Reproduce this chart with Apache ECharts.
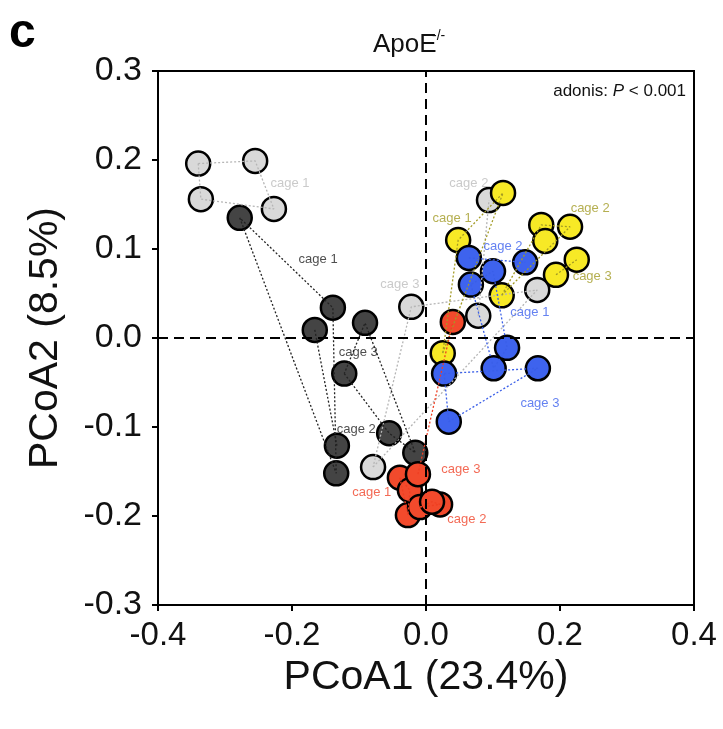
<!DOCTYPE html>
<html>
<head>
<meta charset="utf-8">
<script src="https://cdn.jsdelivr.net/npm/echarts@6/dist/echarts.min.js"></script>
<style>
  html, body { margin: 0; padding: 0; background: #fff; }
  #main { width: 723px; height: 729px; }
</style>
</head>
<body>
<div id="main"></div>
<script>
// axis ticks
var xTicks = [-0.4, -0.2, 0.0, 0.2, 0.4];
var yTicks = [-0.3, -0.2, -0.1, 0.0, 0.1, 0.2, 0.3];

// group 1 (light grey)
var grey1 = [[-0.340, 0.196], [-0.255, 0.199], [-0.336, 0.156], [-0.227, 0.145]];
var grey2 = [[0.094, 0.155], [0.078, 0.025]];
var grey3 = [[-0.022, 0.035], [0.166, 0.054], [-0.079, -0.145]];
// group 2 (dark grey)
var dark1 = [[-0.278, 0.135], [-0.139, 0.034], [-0.134, -0.152]];
var dark2 = [[-0.166, 0.009], [-0.133, -0.121]];
var dark3 = [[-0.091, 0.017], [-0.122, -0.040], [-0.055, -0.107], [-0.016, -0.129]];
// group 3 (yellow)
var yel1 = [[0.048, 0.110], [0.115, 0.163], [0.025, -0.017]];
var yel2 = [[0.172, 0.127], [0.215, 0.125], [0.178, 0.109], [0.113, 0.048]];
var yel3 = [[0.225, 0.088], [0.194, 0.071]];
// group 4 (blue)
var blue1 = [[0.100, 0.075], [0.067, 0.060], [0.121, -0.011], [0.101, -0.034]];
var blue2 = [[0.064, 0.090], [0.148, 0.085]];
var blue3 = [[0.034, -0.094], [0.167, -0.034], [0.027, -0.040]];
// group 5 (red)
var red1 = [[-0.039, -0.157], [-0.024, -0.171], [-0.027, -0.199]];
var red2 = [[-0.009, -0.190], [0.021, -0.187], [0.009, -0.184]];
var red3 = [[0.040, 0.018], [-0.012, -0.153]];

// cage labels: [x, y, text]
var greyLabels = [[-0.203, 0.174, 'cage 1'], [0.064, 0.174, 'cage 2'], [-0.039, 0.060, 'cage 3']];
var darkLabels = [[-0.161, 0.088, 'cage 1'], [-0.104, -0.103, 'cage 2'], [-0.101, -0.016, 'cage 3']];
var yelLabels = [[0.039, 0.134, 'cage 1'], [0.245, 0.146, 'cage 2'], [0.248, 0.069, 'cage 3']];
var blueLabels = [[0.155, 0.029, 'cage 1'], [0.115, 0.103, 'cage 2'], [0.170, -0.073, 'cage 3']];
var redLabels = [[-0.081, -0.174, 'cage 1'], [0.061, -0.204, 'cage 2'], [0.052, -0.148, 'cage 3']];

var FONT = 'Liberation Sans, Arial, Helvetica, sans-serif';

// convex hull (monotone chain), closed
function hull(pts) {
    var p = pts.slice().sort(function (a, b) { return a[0] - b[0] || a[1] - b[1]; });
    if (p.length < 3) return p;
    var cross = function (o, a, b) { return (a[0] - o[0]) * (b[1] - o[1]) - (a[1] - o[1]) * (b[0] - o[0]); };
    var lo = [], up = [];
    p.forEach(function (q) {
        while (lo.length >= 2 && cross(lo[lo.length - 2], lo[lo.length - 1], q) <= 0) lo.pop();
        lo.push(q);
    });
    p.slice().reverse().forEach(function (q) {
        while (up.length >= 2 && cross(up[up.length - 2], up[up.length - 1], q) <= 0) up.pop();
        up.push(q);
    });
    var h = lo.slice(0, -1).concat(up.slice(0, -1));
    h.push(h[0]);
    return h;
}

var groups = [
    { cages: [grey1, grey2, grey3], fill: '#d9d9d9', line: '#b5b5b5', text: '#bdbdbd', labels: greyLabels },
    { cages: [dark1, dark2, dark3], fill: '#444444', line: '#222222', text: '#222222', labels: darkLabels },
    { cages: [yel1, yel2, yel3], fill: '#f7e926', line: '#a39b25', text: '#a39b25', labels: yelLabels },
    { cages: [blue1, blue2, blue3], fill: '#3e63ee', line: '#3a5fe8', text: '#3e63ee', labels: blueLabels },
    { cages: [red1, red2, red3], fill: '#f24a2c', line: '#ef3f22', text: '#f0452a', labels: redLabels }
];

var series = [];
groups.forEach(function (g, gi) {
    series.push({
        type: 'scatter',
        data: [].concat(g.cages[0], g.cages[1], g.cages[2]),
        symbolSize: 24,
        itemStyle: { color: g.fill, borderColor: '#000', borderWidth: 2.5, opacity: 1 },
        z: 2,
        silent: true
    });
    g.cages.forEach(function (c) {
        series.push({
            type: 'line',
            data: hull(c),
            showSymbol: false,
            symbol: 'none',
            lineStyle: { color: g.line, width: 1.3, type: [2, 2] },
            z: 3,
            silent: true,
            animation: false
        });
    });
    series.push({
        type: 'scatter',
        data: g.labels.map(function (l) { return { value: [l[0], l[1]], name: l[2] }; }),
        symbolSize: 0,
        label: {
            show: true, position: 'inside', formatter: '{b}',
            color: g.text, fontSize: 13, fontFamily: FONT
        },
        z: 4,
        silent: true
    });
});

// zero reference lines
series[0].markLine = {
    silent: true,
    symbol: 'none',
    label: { show: false },
    lineStyle: { color: '#000', width: 2, type: [10, 6] },
    data: [{ xAxis: 0 }, { yAxis: 0 }],
    animation: false
};

var myChart = echarts.init(document.getElementById('main'));
var option = {
    backgroundColor: '#fff',
    animation: false,
    grid: {
        left: 158, top: 71, right: 29, bottom: 124,
        show: true, borderColor: '#000', borderWidth: 2, backgroundColor: 'transparent'
    },
    xAxis: {
        type: 'value',
        min: xTicks[0], max: xTicks[xTicks.length - 1], interval: 0.2,
        name: 'PCoA1 (23.4%)', nameLocation: 'middle', nameGap: 52,
        nameTextStyle: { fontSize: 41, color: '#111', fontFamily: FONT },
        axisLine: { onZero: false, lineStyle: { color: '#000', width: 2 } },
        axisTick: { show: true, length: 6, lineStyle: { color: '#000', width: 2 } },
        axisLabel: { fontSize: 33, color: '#111', fontFamily: FONT, margin: 14,
            formatter: function (v) { return v.toFixed(1); } },
        splitLine: { show: false }
    },
    yAxis: {
        type: 'value',
        min: yTicks[0], max: yTicks[yTicks.length - 1], interval: 0.1,
        name: 'PCoA2 (8.5%)', nameLocation: 'middle', nameGap: 92, nameRotate: 90,
        nameTextStyle: { fontSize: 41, color: '#111', fontFamily: FONT },
        axisLine: { onZero: false, lineStyle: { color: '#000', width: 2 } },
        axisTick: { show: true, length: 6, lineStyle: { color: '#000', width: 2 } },
        axisLabel: { fontSize: 34, color: '#111', fontFamily: FONT, margin: 16,
            formatter: function (v) { return v.toFixed(1); } },
        splitLine: { show: false }
    },
    graphic: [
        { type: 'text', left: 9, top: 10,
          style: { text: 'c', fontSize: 48, fontWeight: 'bold', fontFamily: FONT, fill: '#000' } },
        { type: 'text', left: 373, top: 32,
          style: { text: 'ApoE', fontSize: 26, fontFamily: FONT, fill: '#111' } },
        { type: 'text', left: 432, top: 29,
          style: { text: '-/-', fontSize: 14, fontFamily: FONT, fill: '#111' } },
        { type: 'text', right: 37, top: 83,
          style: {
              text: '{n|adonis: }{i|P}{n| < 0.001}',
              rich: {
                  n: { fontSize: 17, fontFamily: FONT, fill: '#111', color: '#111' },
                  i: { fontSize: 17, fontFamily: FONT, fontStyle: 'italic', fill: '#111', color: '#111' }
              }
          } }
    ],
    series: series
};
myChart.setOption(option);
</script>
</body>
</html>
